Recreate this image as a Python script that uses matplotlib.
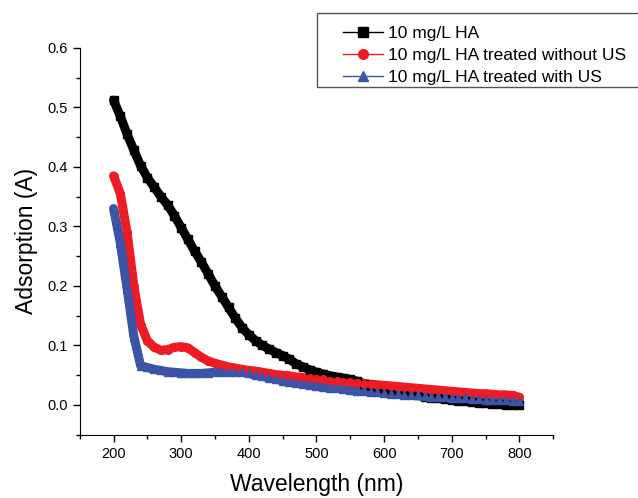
import matplotlib.pyplot as plt
from matplotlib.lines import Line2D
from matplotlib.patches import Rectangle
from matplotlib.ticker import MultipleLocator

plt.rcParams['font.family'] = ['Liberation Sans', 'DejaVu Sans']

# wavelength (nm), every 10 nm
wl = list(range(200, 801, 10))

ha = [0.512, 0.485, 0.455, 0.428, 0.402, 0.382, 0.366, 0.350, 0.336, 0.318,
      0.298, 0.278, 0.258, 0.240, 0.220, 0.200, 0.182, 0.164, 0.146, 0.130,
      0.118, 0.108, 0.100, 0.094, 0.088, 0.083, 0.077, 0.069, 0.064, 0.059,
      0.055, 0.052, 0.049, 0.047, 0.045, 0.043, 0.040, 0.036, 0.032, 0.029,
      0.026, 0.024, 0.022, 0.020, 0.018, 0.016, 0.014, 0.012, 0.011, 0.010,
      0.008, 0.007, 0.006, 0.005, 0.004, 0.003, 0.002, 0.001, 0.000, 0.000,
      0.000]

ha_no_us = [0.385, 0.355, 0.290, 0.200, 0.135, 0.108, 0.097, 0.092, 0.093, 0.097,
            0.098, 0.096, 0.088, 0.080, 0.074, 0.070, 0.067, 0.064, 0.062, 0.060,
            0.058, 0.057, 0.055, 0.053, 0.051, 0.050, 0.049, 0.047, 0.046, 0.045,
            0.044, 0.043, 0.041, 0.040, 0.039, 0.038, 0.037, 0.036, 0.035, 0.034,
            0.033, 0.032, 0.031, 0.030, 0.029, 0.028, 0.027, 0.026, 0.025, 0.024,
            0.023, 0.022, 0.021, 0.020, 0.019, 0.019, 0.018, 0.017, 0.017, 0.016,
            0.013]

ha_us = [0.330, 0.272, 0.195, 0.115, 0.066, 0.063, 0.060, 0.058, 0.056, 0.055,
         0.054, 0.053, 0.053, 0.053, 0.054, 0.055, 0.056, 0.056, 0.056, 0.055,
         0.053, 0.050, 0.048, 0.046, 0.043, 0.041, 0.039, 0.037, 0.035, 0.033,
         0.032, 0.030, 0.029, 0.028, 0.027, 0.025, 0.024, 0.023, 0.022, 0.021,
         0.020, 0.019, 0.018, 0.017, 0.017, 0.016, 0.015, 0.014, 0.013, 0.013,
         0.012, 0.011, 0.011, 0.010, 0.010, 0.009, 0.009, 0.008, 0.008, 0.007,
         0.006]

labels = ['10 mg/L HA', '10 mg/L HA treated without US', '10 mg/L HA treated with US']
colors = ['black', '#ed1c24', '#3b54a5']
markers = ['s', 'o', '^']

fig = plt.figure(figsize=(6.38, 4.98), dpi=100)
ax = fig.add_axes([0.125, 0.127, 0.742, 0.777])

for ys, c, m in zip([ha, ha_no_us, ha_us], colors, markers):
    ax.plot(wl, ys, color=c, lw=6.5, solid_capstyle='round', zorder=2)
    ax.plot(wl, ys, color=c, lw=0, marker=m, markersize=5.5, zorder=3)

ax.set_xlim(150, 850)
ax.set_ylim(-0.05, 0.6)
ax.xaxis.set_minor_locator(MultipleLocator(50))
ax.yaxis.set_minor_locator(MultipleLocator(0.05))
ax.set_xticks(range(200, 801, 100))
ax.set_yticks([0.0, 0.1, 0.2, 0.3, 0.4, 0.5, 0.6])
ax.set_yticklabels(['%.1f' % v for v in [0.0, 0.1, 0.2, 0.3, 0.4, 0.5, 0.6]])
ax.tick_params(which='major', direction='out', length=5, width=1, labelsize=10.5)
ax.tick_params(which='minor', direction='out', length=3, width=1)
ax.spines['top'].set_visible(False)
ax.spines['right'].set_visible(False)
ax.set_xlabel('Wavelength (nm)', fontsize=16.5, labelpad=9)
ax.set_ylabel('Adsorption (A)', fontsize=16.5, labelpad=7)

# legend box sits above the plot and runs off the right edge
fig.patches.append(Rectangle((317 / 638, 1 - 87 / 498), 0.52, 74 / 498,
                             transform=fig.transFigure, fill=False,
                             edgecolor='#555555', lw=1))
handles = [Line2D([0], [0], color=c, lw=1, marker=m, markersize=7)
           for c, m in zip(colors, markers)]
fig.legend(handles, labels, loc='upper left', bbox_to_anchor=(343 / 638, 1 - 26 / 498),
           fontsize=12.5, frameon=False, handlelength=2.3, handletextpad=0.3,
           labelspacing=0.38, borderpad=0, borderaxespad=0)

fig.savefig('out.png', dpi=100)
